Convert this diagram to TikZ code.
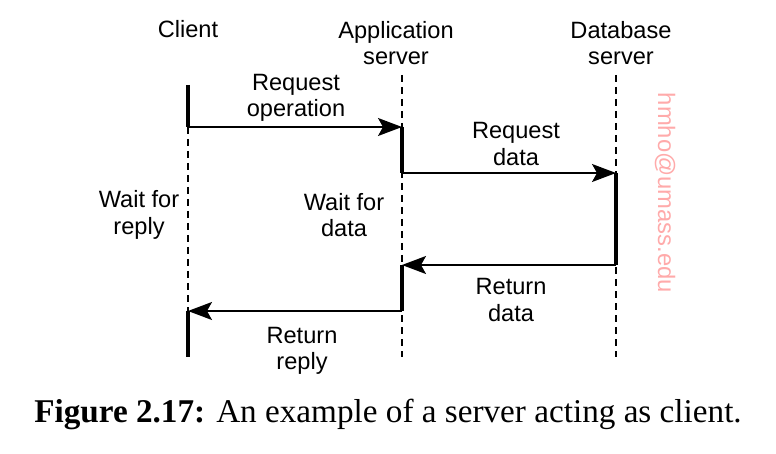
\documentclass[tikz,border=0pt]{standalone}
\usepackage{fontspec}
\setmainfont{Liberation Serif}
\setsansfont{Liberation Sans}
\usetikzlibrary{arrows.meta, positioning}

\definecolor{wmark}{RGB}{255,170,170}

\begin{document}
\begin{tikzpicture}[x=0.5pt, y=-0.5pt,
    lbl/.style={font=\sffamily\fontsize{11.8}{13.3}\selectfont, align=center, inner sep=0pt},
    life/.style={dash pattern=on 3.5pt off 2.5pt, line width=0.7pt},
    busy/.style={line width=2.3pt},
    msg/.style={line width=0.7pt, -{Stealth[length=12pt, width=9pt, inset=2.5pt]}}]
    \useasboundingbox (0,0) rectangle (776,454);

    % headers
    \node[lbl, anchor=base] (client) at (188, 38) {Client};
    \node[lbl] (appsrv) at (396, 43) {Application\\server};
    \node[lbl] (dbsrv) at (621, 43) {Database\\server};

    % points on the lifelines
    \coordinate (c0) at (188, 85);
    \coordinate (c1) at (188, 127);
    \coordinate (c2) at (188, 311);
    \coordinate (c3) at (188, 357);
    \coordinate (a0) at (402, 75);
    \coordinate (a1) at (402, 127);
    \coordinate (a2) at (402, 173);
    \coordinate (a3) at (402, 265);
    \coordinate (a4) at (402, 311);
    \coordinate (a5) at (402, 357);
    \coordinate (d0) at (616, 75);
    \coordinate (d1) at (616, 173);
    \coordinate (d2) at (616, 265);
    \coordinate (d3) at (616, 357);

    % lifelines
    \draw[life] (c1) -- (c2);
    \draw[life] (a0) -- (a5);
    \draw[life] (d0) -- (d3);

    \draw[busy] (c0) -- (c1);
    \draw[busy] (a1) -- (a2);
    \draw[busy] (d1) -- (d2);
    \draw[busy] (a3) -- (a4);
    \draw[busy] (c2) -- (c3);

    % messages
    \draw[msg] (c1) -- (a1);
    \draw[msg] (a2) -- (d1);
    \draw[msg] (d2) -- (a3);
    \draw[msg] (a4) -- (c2);

    \node[lbl] (reqop) at (296, 98) {Request\\operation};
    \node[lbl] (reqdata) at (516, 144) {Request\\data};
    \node[lbl] (waitrep) at (139, 215) {Wait for\\reply};
    \node[lbl] (waitdata) at (344, 215) {Wait for\\data};
    \node[lbl] (retdata) at (511, 300) {Return\\data};
    \node[lbl] (retrep) at (302, 351) {Return\\reply};

    \node[font=\sffamily\fontsize{11.9}{13}\selectfont, text=wmark, rotate=-90, inner sep=0pt] (mark) at (665, 193) {hmho@umass.edu};

    \node[anchor=base, font=\rmfamily\fontsize{16.6}{19}\selectfont, inner sep=0pt] (caption) at (388, 422)
        {\textbf{Figure 2.17:} An example of a server acting as client.};
\end{tikzpicture}
\end{document}
